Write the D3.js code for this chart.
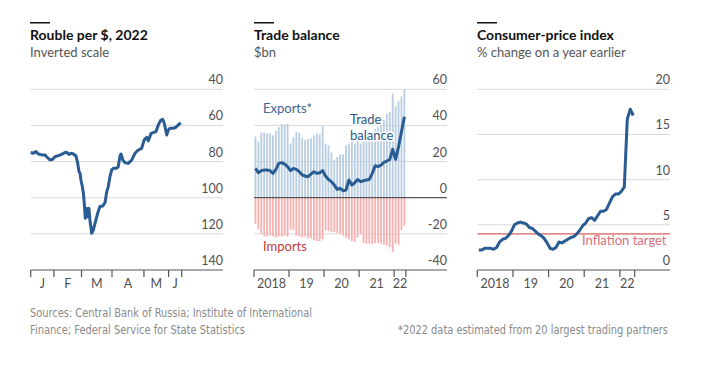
<!DOCTYPE html>
<html><head><meta charset="utf-8">
<script src="https://cdn.jsdelivr.net/npm/d3@7"></script>
<style>
html,body{margin:0;padding:0;background:#fff;}
text{font-family:Lato,"Open Sans",sans-serif;}
</style></head>
<body>
<svg id="c" width="716" height="368"></svg>
<script>
// ---------- DATA ----------
// Rouble per $ (2022), x = trading-day index
const roubleDay = [0,1.8,3.6,5.3,7.6,9.8,11,13.3,15.1,16.7,19,21.3,23.6,24.8,26.4,27.8,29.4,31.2,32.4,33.3,34,34.6,35.6,36.3,36.9,37.6,38.6,39.2,40.1,40.8,42,43.1,44.3,46.1,47.7,49.6,51.2,52.4,53.4,54.6,55.8,56.9,59.2,60.3,61.5,62.2,63.4,64.9,67.2,69.6,71.8,74.1,76.4,78.2,79.9,81,82.9,84.4,86.3,87.9,89.7,90.9,92,93.7,94.8,95.9,98.2,100,101.7,103.3];
const roubleValue = [75,75.4,74.5,75.8,76.3,76.3,77.3,79.1,78.7,77.3,76.7,76,75,74.9,76,75.4,75.8,76.9,81,85.6,86.5,90.2,93.9,97.6,103,111.4,105.9,110.5,105.9,112.3,119.7,117.9,114.2,108.6,104.9,104.6,102.7,96.6,93.9,88.3,84.6,83.7,83.7,82.8,76.9,75.8,79.1,80.6,81,79.1,75.4,73.6,72.7,68,66.6,68.5,64.4,64,63.4,59.7,57,56.6,58.8,65.3,62.5,61.6,61.6,61,59.7,58.5];
const roubleMonthStarts = [0,16,35,56,78,95,104];
const roubleMonthLabels = ["J","F","M","A","M","J"];
const roubleTicks = [40,60,80,100,120,140];

// Trade balance, monthly Jan 2018 - Apr 2022, $bn
const exportsBn = [33.8,31,36,36,35.5,35.5,34.5,37,39,40.8,40.5,41,
  30,33.5,36.5,36,33,32,32.5,33,34.5,35.5,35,39.7,
  30,29,25,21,22.5,24,24,29,30,31,30,33,
  30,31,34.5,35,36,38,39,40.5,43,46.5,47.5,57.7,
  50.5,53.5,56,60];
const importsBn = [-14.5,-17.5,-20,-21.5,-21.5,-21,-21.5,-22,-21.5,-21.5,-21,-21.5,
  -17.5,-18,-21,-21.5,-22,-21.5,-22.5,-22.5,-23.5,-24,-24,-23,
  -18,-18.5,-19,-19,-19.5,-20,-21,-22,-23,-24,-24.5,-22,
  -20,-25,-25.5,-25.5,-25.5,-25,-25,-25.5,-26,-26.5,-27.5,-30,
  -25.5,-26,-18,-15.5];
const balanceBn = [16.2,13.8,15,15.3,15.3,15,13.5,15.7,19,19.4,18.6,17.2,
  15,16.2,15.7,14.4,12.7,12,11.6,13.1,14.4,13.5,13.8,15,
  12,10.1,8.9,7,4.6,5.2,3.9,4.2,9.8,7,8.3,10.1,
  8.9,9.4,9.8,10.1,13.5,17.7,17.2,18,19.6,20.3,21.2,26.8,
  21.2,28.2,36.5,44.8];
const tradeTicks = [60,40,20,0,-20,-40];
const yearLabels = ["2018","19","20","21","22"];

// CPI, % change on a year earlier, monthly Jan 2018 - May 2022
const cpi = [2.2,2.2,2.4,2.4,2.4,2.3,2.5,3.1,3.4,3.5,3.8,4.3,
  5.0,5.2,5.3,5.2,5.1,4.7,4.6,4.3,4.0,3.8,3.5,3.0,
  2.4,2.3,2.5,3.1,3.0,3.2,3.4,3.6,3.7,4.0,4.4,4.9,
  5.2,5.7,5.8,5.5,6.0,6.5,6.5,6.7,7.4,8.1,8.4,8.4,
  8.7,9.2,16.7,17.8,17.1];
const cpiTicks = [20,15,10,5,0];
const inflationTarget = 4;

// ---------- STYLE ----------
const BLUE = "#2a5c94";
const GRID = "#d9d9d9";
const AXIS = "#555";
const TICKTXT = "#505050";
const plotTop = 89.3, plotBottom = 270;

const svg = d3.select("#c");

function header(x, title, sub) {
  svg.append("rect").attr("x", x).attr("y", 22).attr("width", 20).attr("height", 1.5).attr("fill", "#111");
  svg.append("text").attr("x", x).attr("y", 40).text(title)
    .attr("font-size", 14).attr("font-weight", 700).attr("fill", "#111");
  svg.append("text").attr("x", x).attr("y", 57).text(sub)
    .attr("font-size", 13).attr("fill", "#555");
}

function yGrid(g, y, ticks, x0, x1, darkVals) {
  ticks.forEach(t => {
    const dark = darkVals.includes(t);
    g.append("line").attr("x1", x0).attr("x2", x1).attr("y1", y(t)).attr("y2", y(t))
      .attr("stroke", dark ? AXIS : GRID).attr("stroke-width", dark ? 1.2 : 1);
    g.append("text").attr("x", x1).attr("y", y(t) - 5).attr("text-anchor", "end")
      .attr("font-size", 12.5).attr("fill", TICKTXT).text(t);
  });
}

function xAxis(g, xs, labels, y0) {
  xs.forEach(x => g.append("line").attr("x1", x).attr("x2", x).attr("y1", y0).attr("y2", y0 + 7)
    .attr("stroke", AXIS).attr("stroke-width", 1.2));
  labels.forEach((l, i) => g.append("text").attr("x", (xs[i] + xs[i + 1]) / 2).attr("y", y0 + 18)
    .attr("text-anchor", "middle").attr("font-size", 12.5).attr("fill", TICKTXT).text(l));
}

// ---------- PANEL 1: Rouble ----------
{
  const x0 = 30.7, x1 = 223;
  header(30, "Rouble per $, 2022", "Inverted scale");
  const g = svg.append("g");
  const y = d3.scaleLinear().domain([40, 140]).range([plotTop, plotBottom]);
  const x = d3.scaleLinear().domain([0, 104]).range([30.7, 181.7]);
  yGrid(g, y, roubleTicks, x0, x1, [140]);
  xAxis(g, roubleMonthStarts.map(x), roubleMonthLabels, plotBottom);
  const pts = roubleDay.map((d, i) => [d, roubleValue[i]]);
  g.append("path").datum(pts)
    .attr("d", d3.line().x(d => x(d[0])).y(d => y(d[1])))
    .attr("fill", "none").attr("stroke", BLUE).attr("stroke-width", 3).attr("stroke-linejoin", "round");
}

// ---------- PANEL 2: Trade balance ----------
{
  const x0 = 254, x1 = 447;
  header(254, "Trade balance", "$bn");
  const g = svg.append("g");
  const y = d3.scaleLinear().domain([60, -40]).range([plotTop, plotBottom]);
  const n = exportsBn.length;
  const x = d3.scaleBand().domain(d3.range(n)).range([254, 254 + n * 2.92]).paddingInner(0.38).paddingOuter(0.19);
  const xl = d3.scaleLinear().domain([0, n]).range([254, 254 + n * 2.92]);
  tradeTicks.forEach(t => {
    if (t === 0 || t === -40) return;
    g.append("line").attr("x1", x0).attr("x2", x1).attr("y1", y(t)).attr("y2", y(t)).attr("stroke", GRID);
  });
  g.selectAll(".ex").data(exportsBn).join("rect").attr("class", "ex")
    .attr("x", (d, i) => x(i)).attr("width", x.bandwidth())
    .attr("y", d => y(d)).attr("height", d => y(0) - y(d)).attr("fill", "#b9cde2");
  g.selectAll(".im").data(importsBn).join("rect").attr("class", "im")
    .attr("x", (d, i) => x(i)).attr("width", x.bandwidth())
    .attr("y", y(0)).attr("height", d => y(d) - y(0)).attr("fill", "#f7b0b0");
  [0, -40].forEach(t => g.append("line").attr("x1", x0).attr("x2", x1).attr("y1", y(t)).attr("y2", y(t))
    .attr("stroke", AXIS).attr("stroke-width", 1.2));
  tradeTicks.forEach(t => g.append("text").attr("x", x1).attr("y", y(t) - 5).attr("text-anchor", "end")
    .attr("font-size", 12.5).attr("fill", TICKTXT).text(t));
  xAxis(g, [0, 12, 24, 36, 48, 52].map(xl), yearLabels, plotBottom);
  g.append("path").datum(balanceBn)
    .attr("d", d3.line().x((d, i) => x(i) + x.bandwidth() / 2).y(d => y(d)))
    .attr("fill", "none").attr("stroke", BLUE).attr("stroke-width", 3).attr("stroke-linejoin", "round");
  g.append("text").attr("x", 263).attr("y", 113).text("Exports*").attr("font-size", 13).attr("fill", "#3f6590")
    .attr("stroke", "#fff").attr("stroke-width", 3).attr("paint-order", "stroke");
  const tb = g.append("text").attr("font-size", 13).attr("fill", "#2a5688")
    .attr("stroke", "#fff").attr("stroke-width", 3).attr("paint-order", "stroke");
  tb.append("tspan").attr("x", 350).attr("y", 124).text("Trade");
  tb.append("tspan").attr("x", 350).attr("y", 140).text("balance");
  g.append("text").attr("x", 263).attr("y", 251).text("Imports").attr("font-size", 13).attr("fill", "#c23a3a");
}

// ---------- PANEL 3: CPI ----------
{
  const x0 = 477.3, x1 = 670;
  header(477, "Consumer-price index", "% change on a year earlier");
  const g = svg.append("g");
  const y = d3.scaleLinear().domain([0, 20]).range([plotBottom, plotTop]);
  const x = d3.scaleLinear().domain([0, 53]).range([477.3, 634.7]);
  yGrid(g, y, cpiTicks, x0, x1, [0]);
  xAxis(g, [0, 12, 24, 36, 48, 53].map(x), yearLabels, plotBottom);
  g.append("line").attr("x1", x0).attr("x2", x1).attr("y1", y(inflationTarget)).attr("y2", y(inflationTarget))
    .attr("stroke", "#e08c8c").attr("stroke-width", 1.8);
  g.append("text").attr("x", 582).attr("y", 245).text("Inflation target").attr("font-size", 13).attr("fill", "#d4707e");
  g.append("path").datum(cpi)
    .attr("d", d3.line().x((d, i) => x(i + 0.5)).y(d => y(d)))
    .attr("fill", "none").attr("stroke", BLUE).attr("stroke-width", 3).attr("stroke-linejoin", "round");
}

// ---------- FOOTER ----------
const footFont = "'Liberation Sans Narrow','DejaVu Sans Condensed',Lato,sans-serif";
const foot = svg.append("g").attr("font-size", 12).attr("fill", "#8a8a8a");
foot.append("text").attr("x", 30).attr("y", 317).text("Sources: Central Bank of Russia; Institute of International")
  .attr("textLength", 282).attr("lengthAdjust", "spacingAndGlyphs").style("font-family", footFont);
foot.append("text").attr("x", 30).attr("y", 334).text("Finance; Federal Service for State Statistics")
  .attr("textLength", 215).attr("lengthAdjust", "spacingAndGlyphs").style("font-family", footFont);
foot.append("text").attr("x", 398).attr("y", 334).text("*2022 data estimated from 20 largest trading partners")
  .attr("textLength", 270).attr("lengthAdjust", "spacingAndGlyphs").style("font-family", footFont);
</script>
</body></html>
